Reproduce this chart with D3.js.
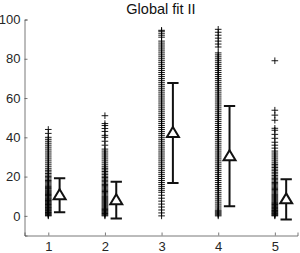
<!DOCTYPE html>
<html><head><meta charset="utf-8">
<script src="https://cdn.jsdelivr.net/npm/d3@7"></script>
<style>body{margin:0;background:#fff}svg{display:block}text{font-family:"Liberation Sans",Arial,sans-serif}</style>
</head><body><div id="chart"></div>
<script>
const title = "Global fit II";
const categories = [1, 2, 3, 4, 5];
const yTicks = [0, 20, 40, 60, 80, 100];
// raw observations per category (plotted as '+')
const obs1 = [0,0.3,0.6,1,1.3,1.7,2,2.4,2.8,3.1,3.5,3.9,4.2,4.6,5,5.4,5.8,6.2,6.6,7,7.4,7.8,8.2,8.6,9,9.5,10,10.4,10.9,11.3,11.8,12.3,12.8,13.3,13.9,14.4,15,15.6,16.2,16.8,17.4,18,18.7,19.4,20.1,20.8,21.6,22.4,23.2,24,25,26,27,28,29,30,31,32,33,34,35,36,37,38,39,40,42,44];
const obs2 = [0,0.4,0.8,1.2,1.6,2,2.4,2.8,3.2,3.6,4,4.5,5,5.5,6,6.5,7,7.5,8,8.5,9,9.5,10,10.6,11.2,11.8,12.4,13,13.6,14.2,14.8,15.4,16,16.7,17.4,18.1,18.8,19.5,20.2,21,21.8,22.6,23.4,24.2,25,26,27,28,29,30,31,32,33,34,36,38,40,41,43,44.5,46,47,51];
const obs3 = [0,1.5,3,4.5,6,7.5,9,10.5,12,13,14,15,16,17,18,19,20,21,22,23,24,25,26,27,28,29,30,31,32,33,34,35,36,37,38,39,40,41,42,43,44,45,46,47,48,49,50,51,52,53,54,55,56,57,58,59,60,61,62,63,64,65,66,67,68,69,70,71,72,73,74,75,76,77,78,79,80,81,82,83,84,85,86,87,88,89,91,92,93,94,94.5];
const obs4 = [0,0.5,1,1.5,2,2.5,3,4,5,6,7,8,9,10,11,12,13,14,15,16,17,18,19,20,21,22,23,24,25,26,27,28,29,30,31,32,33,34,35,36,37,38,39,40,41,42,43,44,45,46,47,48,49,50,51,52,53,54,55,56,57,58,59,60,61,62,63,64,65,66,67,68,69,70,71,72,73,74,75,76,77,78,79,80,81,82,83,86,87.5,89,90.5,92,93.5,95];
const obs5 = [0,0.3,0.6,1,1.3,1.6,2,2.3,2.7,3,3.4,3.8,4.2,4.6,5,5.4,5.8,6.2,6.6,7,7.5,8,8.5,9,9.5,10,10.5,11,11.6,12.2,12.8,13.4,14,14.6,15.2,15.8,16.4,17,17.7,18.4,19.1,19.8,20.6,21.4,22.2,23,23.8,24.6,25.4,26.2,27,28,29,30,31,32,33,34.5,36,37.5,39.5,41.5,43.6,44.6,48.7,51.3,53.8,79];
const observations = [obs1, obs2, obs3, obs4, obs5];
// fitted means and error half-widths (triangles with error bars)
const fitMean = [10.5, 8.0, 42.2, 30.4, 8.4];
const fitErr  = [8.7, 9.4, 25.5, 25.5, 10.2];

const W = 300, H = 253;
const svg = d3.select("#chart").append("svg").attr("width", W).attr("height", H);
const x = d3.scaleLinear().domain([0.58, 5.4]).range([24.5, 297.5]);
const y = d3.scaleLinear().domain([-10, 100]).range([235.5, 19.5]);

const axisColor = "#262626";
const yAxis = d3.axisLeft(y).tickValues(yTicks).tickSize(-3).tickPadding(4);
const gy = svg.append("g").attr("transform", `translate(${x.range()[0]},0)`).call(yAxis);
const xAxis = d3.axisBottom(x).tickValues(categories).tickSize(-3).tickPadding(6).tickFormat(d3.format("d"));
const gx = svg.append("g").attr("transform", `translate(0,${y.range()[0]})`).call(xAxis);
[gx, gy].forEach(g => {
  g.select(".domain").attr("stroke", "#555").attr("stroke-width", 0.8);
  g.selectAll(".tick line").attr("stroke", "#555").attr("stroke-width", 0.8);
  g.selectAll(".tick text").attr("fill", axisColor).style("font-size", "13px").style("font-family", '"Liberation Sans",Arial,sans-serif');
});
const pts = [];
observations.forEach((arr, i) => arr.forEach(v => pts.push({c: categories[i], v})));
const s = 3.3;
svg.append("g").selectAll("path").data(pts).join("path")
  .attr("d", d => { const px = x(d.c), py = y(d.v); return `M${px - s},${py}H${px + s}M${px},${py - s}V${py + s}`; })
  .attr("stroke", "#000").attr("stroke-width", 1).attr("fill", "none").attr("opacity", 0.9);

const off = 0.2, cap = 0.1;
const eb = svg.append("g").attr("stroke", "#111").attr("stroke-width", 2).attr("fill", "none");
categories.forEach((c, i) => {
  const cx = c + off, lo = fitMean[i] - fitErr[i], hi = fitMean[i] + fitErr[i];
  eb.append("path").attr("d", `M${x(cx)},${y(lo)}V${y(hi)}M${x(cx - cap)},${y(hi)}H${x(cx + cap)}M${x(cx - cap)},${y(lo)}H${x(cx + cap)}`);
  const tx = x(cx), ty = y(fitMean[i]);
  eb.append("path").attr("d", `M${tx},${ty - 6}L${tx + 6},${ty + 4}L${tx - 6},${ty + 4}Z`).attr("fill", "#fff");
});

svg.append("text").attr("x", 161).attr("y", 14).attr("text-anchor", "middle")
  .style("font-size", "14.5px").attr("fill", "#111").text(title);
</script></body></html>
